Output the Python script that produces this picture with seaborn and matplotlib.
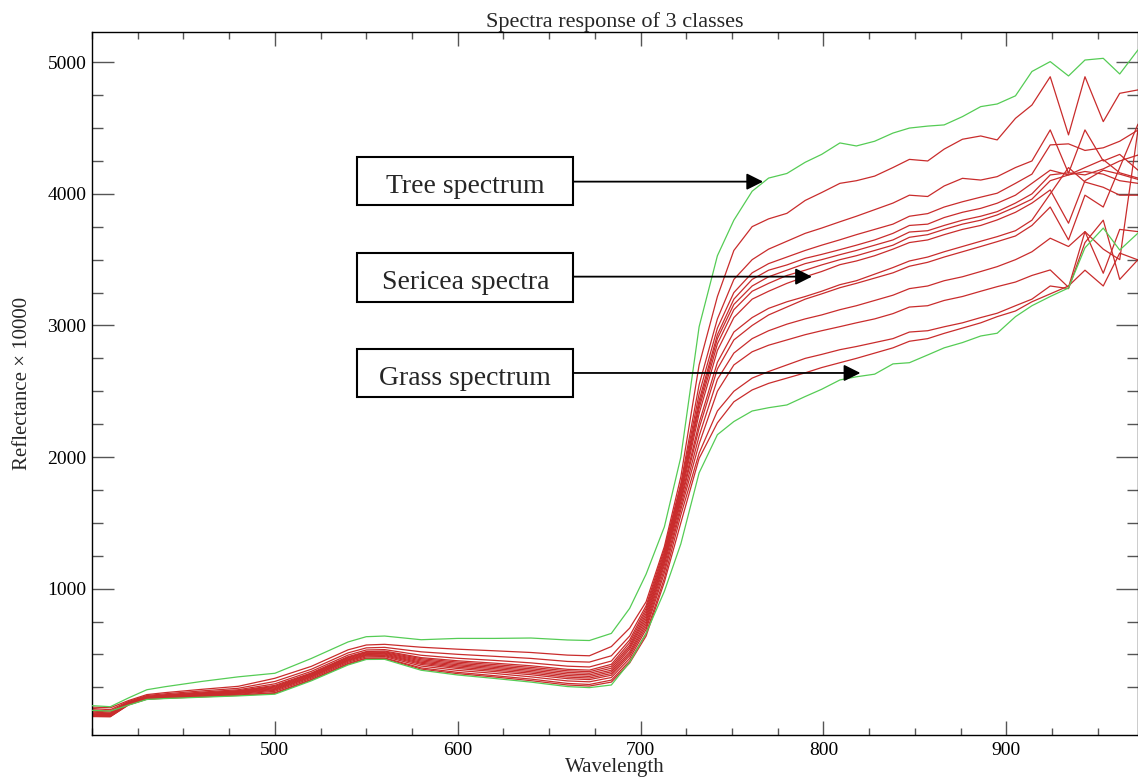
import matplotlib
matplotlib.use("Agg")
import matplotlib.pyplot as plt
import seaborn as sns
import pandas as pd
from matplotlib.patches import Rectangle
from matplotlib.ticker import FixedLocator

# ---------------- data ----------------
wavelengths = [400, 410, 420, 430, 440, 460, 480, 500, 520, 540, 550, 560, 580, 600, 620, 640, 660, 672,
               684, 694, 703, 713, 722, 732, 742, 751, 761, 770, 780, 790, 799, 809, 818, 828, 838, 847,
               857, 866, 876, 886, 895, 905, 914, 924, 934, 943, 953, 962, 972]

tree = [111, 103, 170, 232, 255, 295, 330, 357, 470, 595, 635, 640, 612, 622, 622, 625, 610, 606,
        660, 850, 1110, 1470, 2000, 2990, 3530, 3800, 4020, 4120, 4155, 4240, 4300, 4387, 4364, 4400,
        4462, 4500, 4515, 4524, 4587, 4663, 4683, 4745, 4930, 5005, 4896, 5017, 5030, 4911, 5094]

grass = [75, 70, 115, 158, 165, 175, 185, 198, 300, 420, 462, 463, 380, 344, 318, 290, 256, 248,
         268, 440, 660, 980, 1340, 1880, 2170, 2270, 2350, 2375, 2396, 2460, 2515, 2586, 2610, 2630,
         2708, 2717, 2776, 2830, 2870, 2920, 2941, 3067, 3150, 3220, 3285, 3590, 3740, 3573, 3702]

sericea_01 = [100, 95, 150, 195, 210, 235, 258, 319, 410, 535, 572, 577, 555, 540, 528, 515, 495, 490,
              560, 700, 900, 1320, 1850, 2700, 3220, 3570, 3751, 3810, 3852, 3950, 4010, 4080, 4100, 4135,
              4200, 4262, 4250, 4340, 4415, 4440, 4410, 4574, 4675, 4890, 4448, 4890, 4549, 4764, 4790]
sericea_02 = [90, 80, 143, 188, 201, 223, 243, 295, 388, 512, 550, 554, 520, 501, 486, 470, 447, 442,
              490, 640, 870, 1300, 1800, 2550, 3050, 3350, 3500, 3580, 3640, 3700, 3740, 3788, 3830, 3880,
              3930, 3990, 3980, 4060, 4118, 4105, 4131, 4200, 4250, 4486, 4157, 4486, 4250, 4300, 4180]
sericea_03 = [80, 70, 138, 182, 194, 214, 232, 277, 372, 495, 534, 537, 494, 471, 455, 436, 411, 405,
              450, 610, 850, 1280, 1780, 2480, 2980, 3250, 3400, 3470, 3520, 3570, 3610, 3651, 3690, 3730,
              3770, 3830, 3850, 3900, 3940, 3975, 4005, 4080, 4150, 4372, 4380, 4330, 4350, 4400, 4485]
sericea_04 = [70, 62, 134, 178, 190, 208, 225, 265, 360, 483, 522, 526, 476, 452, 434, 414, 387, 381,
              425, 590, 830, 1260, 1760, 2430, 2930, 3200, 3350, 3420, 3460, 3510, 3540, 3576, 3610, 3650,
              3700, 3760, 3770, 3820, 3860, 3890, 3929, 3990, 4080, 4180, 4144, 4170, 4150, 4100, 4080]
sericea_05 = [62, 55, 132, 176, 187, 205, 222, 258, 355, 478, 517, 520, 468, 442, 423, 402, 376, 369,
              410, 570, 810, 1250, 1740, 2400, 2900, 3160, 3300, 3370, 3420, 3470, 3500, 3538, 3570, 3610,
              3650, 3710, 3720, 3760, 3800, 3830, 3865, 3930, 4000, 4144, 4160, 4144, 4190, 4250, 4295]
sericea_06 = [55, 50, 131, 175, 185, 202, 218, 252, 350, 472, 512, 514, 459, 432, 412, 391, 364, 357,
              395, 555, 790, 1230, 1720, 2370, 2860, 3120, 3260, 3320, 3380, 3420, 3460, 3500, 3530, 3570,
              3610, 3670, 3690, 3730, 3770, 3800, 3840, 3900, 3960, 4100, 4144, 4200, 4260, 4160, 4120]
sericea_07 = [50, 45, 129, 173, 183, 199, 214, 246, 344, 466, 506, 509, 450, 422, 402, 380, 352, 345,
              380, 540, 770, 1220, 1700, 2330, 2810, 3060, 3200, 3260, 3320, 3370, 3410, 3462, 3490, 3530,
              3580, 3630, 3650, 3690, 3730, 3760, 3802, 3860, 3930, 4030, 3777, 4100, 4180, 4150, 4110]
sericea_08 = [45, 42, 127, 171, 181, 196, 211, 240, 339, 460, 500, 503, 441, 413, 392, 369, 340, 333,
              368, 520, 750, 1200, 1680, 2260, 2720, 2950, 3060, 3130, 3180, 3220, 3260, 3310, 3340, 3390,
              3440, 3490, 3520, 3560, 3600, 3640, 3675, 3720, 3800, 4000, 4200, 4090, 4050, 3990, 3990]
sericea_09 = [42, 38, 125, 169, 179, 193, 207, 234, 333, 455, 495, 497, 433, 403, 381, 358, 328, 321,
              355, 505, 730, 1180, 1660, 2220, 2670, 2890, 3000, 3080, 3140, 3200, 3240, 3287, 3320, 3360,
              3400, 3450, 3480, 3520, 3560, 3600, 3637, 3680, 3760, 3900, 3650, 3990, 3900, 4200, 4530]
sericea_10 = [38, 35, 124, 167, 176, 190, 203, 228, 328, 449, 490, 491, 424, 393, 370, 346, 316, 309,
              342, 490, 710, 1150, 1630, 2160, 2590, 2790, 2900, 2960, 3010, 3050, 3080, 3120, 3150, 3190,
              3230, 3280, 3300, 3340, 3370, 3410, 3447, 3500, 3560, 3663, 3600, 3713, 3397, 3730, 3713]
sericea_11 = [34, 32, 121, 165, 173, 186, 198, 220, 320, 441, 482, 484, 412, 379, 356, 330, 299, 292,
              325, 470, 690, 1120, 1600, 2100, 2500, 2700, 2800, 2850, 2890, 2930, 2960, 2991, 3020, 3050,
              3090, 3140, 3150, 3190, 3220, 3260, 3295, 3330, 3380, 3422, 3290, 3713, 3580, 3500, 4490]
sericea_12 = [30, 28, 118, 162, 170, 181, 192, 210, 311, 432, 473, 474, 398, 364, 339, 313, 280, 272,
              305, 450, 660, 1080, 1560, 2030, 2350, 2500, 2600, 2650, 2700, 2750, 2780, 2816, 2840, 2870,
              2900, 2950, 2960, 2990, 3020, 3060, 3093, 3150, 3200, 3300, 3280, 3630, 3800, 3350, 3500]
sericea_13 = [28, 27, 117, 160, 167, 178, 189, 204, 306, 426, 468, 469, 389, 354, 329, 301, 268, 260,
              290, 435, 640, 1050, 1500, 1990, 2260, 2420, 2510, 2560, 2600, 2640, 2680, 2717, 2750, 2790,
              2830, 2880, 2900, 2940, 2980, 3020, 3067, 3110, 3180, 3240, 3300, 3420, 3300, 3550, 3498]

sericea = [sericea_01, sericea_02, sericea_03, sericea_04, sericea_05, sericea_06, sericea_07,
           sericea_08, sericea_09, sericea_10, sericea_11, sericea_12, sericea_13]

x_major = [500, 600, 700, 800, 900]
x_minor = [400, 425, 450, 475, 525, 550, 575, 625, 650, 675, 725, 750, 775, 825, 850, 875, 925, 950]
y_major = [1000, 2000, 3000, 4000, 5000]
y_minor = [250, 500, 750, 1250, 1500, 1750, 2250, 2500, 2750, 3250, 3500, 3750, 4250, 4500, 4750]

box_labels = ["Tree spectrum", "Sericea spectra", "Grass spectrum"]

# ---------------- style ----------------
sns.set_style("ticks")
plt.rcParams["font.family"] = ["Liberation Serif", "DejaVu Serif"]

RED = "#c92c2c"
GREEN = "#55cc55"

fig = plt.figure(figsize=(11.38, 7.79), dpi=100)
ax = fig.add_axes([92 / 1138, 1 - 735 / 779, 1046 / 1138, 703 / 779])

rows = []
for i, s in enumerate(sericea):
    for w, v in zip(wavelengths, s):
        rows.append({"wavelength": w, "reflectance": v, "spectrum": f"s{i}", "cls": "Sericea"})
for name, s in (("tree", tree), ("grass", grass)):
    for w, v in zip(wavelengths, s):
        rows.append({"wavelength": w, "reflectance": v, "spectrum": name, "cls": name})
df = pd.DataFrame(rows)

sns.lineplot(data=df[df.cls == "Sericea"], x="wavelength", y="reflectance", units="spectrum",
             estimator=None, color=RED, lw=0.9, ax=ax, legend=False)
sns.lineplot(data=df[df.cls != "Sericea"], x="wavelength", y="reflectance", units="spectrum",
             estimator=None, color=GREEN, lw=0.9, ax=ax, legend=False, zorder=3)

ax.set_xlim(400, 972)
ax.set_ylim(-112, 5230)

ax.xaxis.set_major_locator(FixedLocator(x_major))
ax.xaxis.set_minor_locator(FixedLocator(x_minor))
ax.yaxis.set_major_locator(FixedLocator(y_major))
ax.yaxis.set_minor_locator(FixedLocator(y_minor))

tick_col = "#555555"
ax.tick_params(axis="y", which="major", direction="in", length=15.8, width=1, color=tick_col,
               left=True, right=True, labelsize=14, pad=4, labelcolor="black")
ax.tick_params(axis="y", which="minor", direction="in", length=7.9, width=1, color=tick_col,
               left=True, right=True)
ax.tick_params(axis="x", which="major", direction="in", length=10, width=1, color=tick_col,
               bottom=True, top=True, labelsize=14, pad=5, labelcolor="black")
ax.tick_params(axis="x", which="minor", direction="in", length=5, width=1, color=tick_col,
               bottom=True, top=True)

for sp in ax.spines.values():
    sp.set_color("black")
    sp.set_linewidth(1.0)

ax.set_title("Spectra response of 3 classes", fontsize=16, pad=3)
ax.set_xlabel("Wavelength", fontsize=15, labelpad=-1)
ax.set_ylabel("Reflectance × 10000", fontsize=15, labelpad=11)

# annotation boxes and arrows
box_x0, box_x1 = 545.1, 663.2
boxes = [(3916, 4280, 4005, 3995, 767.0, 4093),
         (3179, 3551, 3275, 3266, 793.7, 3371),
         (2457, 2822, 2548, 2540, 820.2, 2639)]
for label, (yb, yt, ybase, yclip, tipx, ay) in zip(box_labels, boxes):
    ax.add_patch(Rectangle((box_x0, yb), box_x1 - box_x0, yt - yb, fill=False, ec="black",
                           lw=1.5, zorder=6))
    t = ax.text((box_x0 + box_x1) / 2, ybase, label, ha="center", va="baseline", fontsize=20,
                zorder=7)
    clip = Rectangle((box_x0, yclip), box_x1 - box_x0, yt - yclip, transform=ax.transData)
    t.set_clip_path(clip)
    ax.annotate("", xy=(tipx, ay), xytext=(box_x1, ay),
                arrowprops=dict(arrowstyle="-|>,head_length=0.4,head_width=0.2", mutation_scale=25,
                                lw=1.3, color="black", shrinkA=0, shrinkB=0), zorder=7)

fig.savefig("out.png", dpi=100)
